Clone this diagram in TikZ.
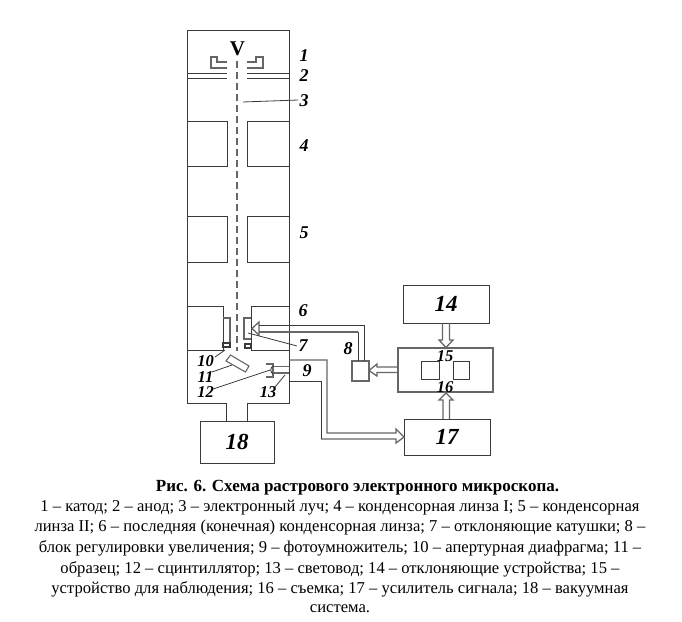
\documentclass[tikz,border=0pt]{standalone}
\usepackage{fontspec}
\setmainfont{Liberation Serif}
\definecolor{ink}{HTML}{3A3A3A}
\definecolor{soft}{HTML}{666666}
\tikzset{
  wall/.style={draw=ink,line width=1pt,line join=miter},
  softwall/.style={draw=soft,line width=1.3pt,line join=miter},
  block/.style={draw=ink,line width=1pt,rectangle,inner sep=0pt,outer sep=0pt,anchor=north west,font=\fontsize{23}{23}\selectfont\bfseries\itshape},
  softblock/.style={block,draw=soft,line width=1.3pt},
  tag/.style={font=\fontsize{18}{18}\selectfont\bfseries\itshape,inner sep=0pt,text=black},
  smalltag/.style={font=\fontsize{16.5}{17}\selectfont\bfseries\itshape,inner sep=0pt,text=black},
  leader/.style={draw=ink,line width=0.8pt},
  capline/.style={font=\fontsize{16.6}{18}\selectfont,inner sep=0pt,text=black}
}
\newcommand{\blk}[6]{\node[#1,minimum width=#4pt,minimum height=#5pt] (#2) at (#3) {#6};}
\begin{document}
\begin{tikzpicture}[x=1pt,y=-1pt]
\useasboundingbox (0,0) rectangle (682,621);
% column
\draw[wall] (226,403) -- (187.5,403) -- (187.5,30) -- (289,30) -- (289,403) -- (247,403);
% cathode
\draw[softwall] (227,62) -- (217,62) -- (217,57) -- (211,57) -- (211,68) -- (227,68);
\draw[softwall] (247,62) -- (256,62) -- (256,57) -- (263,57) -- (263,68) -- (247,68);
% anode
\draw[wall] (187.5,73) -- (227,73) (187.5,78) -- (227,78);
\draw[wall] (247,73) -- (289,73) (247,78) -- (289,78);
% beam
\draw[draw=soft,line width=1.3pt,dash pattern=on 7pt off 4pt] (237,61) -- (237,351);
% lens 4, 5
\draw[wall] (187.5,121) -- (227,121) -- (227,166) -- (187.5,166);
\draw[wall] (289,121) -- (247,121) -- (247,166) -- (289,166);
\draw[wall] (187.5,216) -- (227,216) -- (227,262) -- (187.5,262);
\draw[wall] (289,216) -- (247,216) -- (247,262) -- (289,262);
% lens 6
\draw[wall] (187.5,306) -- (223,306) -- (223,350.5) -- (187.5,350.5);
\draw[wall] (289,306) -- (251,306) -- (251,350.5) -- (289,350.5);
% deflecting coils
\draw[softwall] (223,318) -- (230,318) -- (230,343) -- (223,343);
\draw[softwall] (251,318) -- (244,318) -- (244,339) -- (251,339);
% aperture
\draw[wall,line width=1.3pt] (223,343) rectangle (230,347);
\draw[wall,line width=1.3pt] (245,344) rectangle (251,348);
% sample
\draw[softwall,line width=1.1pt] (226,361) -- (230.5,355) -- (249,366) -- (245.5,372) -- cycle;
% scintillator and guide
\draw[softwall] (266,364) -- (273,364) -- (273,377) -- (266,377);
\draw[softwall,line width=1.1pt] (273,366.5) -- (289,366.5) (273,373) -- (289,373);
\draw[wall,line width=0.9pt] (273,366) .. controls (270,368) and (270,372) .. (273,374);
% neck and pump
\draw[wall] (226,403) -- (226,421);
\draw[wall] (247,403) -- (247,421);
\blk{block}{pump}{200,421}{74}{42}{18}
% right-hand blocks
\blk{block}{defl}{403,285}{86}{38}{14}
\blk{softblock}{view}{398,348}{95}{44}{}
\blk{block}{amp}{404,419}{86}{36}{17}
\blk{softblock}{mag}{352,361}{17}{20}{}
\blk{block}{scrA}{421,361}{18}{18}{}
\blk{block}{scrB}{453,361}{16}{18}{}
% pipe 9 -> 17
\coordinate (p9a) at (289,360);
\coordinate (p9b) at (289,381.5);
\draw[softwall] (p9a) -- (327,360) -- (327,433) -- (396,433) -- (396,429) -- (amp.west) -- (396,443) -- (396,439) -- (321,439);
\draw[wall] (321,439) -- (321,381.5) -- (p9b);
% pipe mag -> coils
\coordinate (headT) at (259,322);
\coordinate (headB) at (259,335);
\coordinate (tip8) at (252,328.5);
\draw[softwall] (tip8) -- (headT) -- (headB) -- cycle;
\draw[wall] (259,325) -- (364,325) -- (364,361);
\draw[softwall] (259,332) -- (358,332);
\draw[wall] (358,332) -- (358,361);
% view -> mag
\draw[softwall] (398,367) -- (377,367) -- (377,364) -- (369,370.5) -- (377,376) -- (377,372.5) -- (398,372.5);
% defl -> view
\draw[softwall] (442.5,323) -- (442.5,340) -- (439,340) -- (446,347.5) -- (453,340) -- (449.5,340) -- (449.5,323);
% amp -> view
\draw[softwall] (443,419) -- (443,400) -- (439,400) -- (446,393) -- (453,400) -- (449.5,400) -- (449.5,419);
% leaders
\coordinate (l3a) at (243,102); \coordinate (l3b) at (298,100);
\coordinate (l7a) at (248,333); \coordinate (l7b) at (297,346);
\coordinate (l10a) at (215,357); \coordinate (l10b) at (225,350);
\coordinate (l11a) at (212,372); \coordinate (l11b) at (232,365);
\coordinate (l12a) at (213,389); \coordinate (l12b) at (270,370);
\coordinate (l13a) at (275,387); \coordinate (l13b) at (285,375);
\draw[leader] (l3a) -- (l3b);
\draw[leader] (l7a) -- (l7b);
\draw[leader] (l10a) -- (l10b);
\draw[leader] (l11a) -- (l11b);
\draw[leader] (l12a) -- (l12b);
\draw[leader] (l13a) -- (l13b);
% labels
\node[font=\fontsize{21}{21}\selectfont\bfseries,inner sep=0pt] (V) at (237.5,49) {V};
\node[tag] (t1) at (304,56) {1};
\node[tag] (t2) at (304,75.5) {2};
\node[tag] (t3) at (304,101) {3};
\node[tag] (t4) at (304,146) {4};
\node[tag] (t5) at (304,233) {5};
\node[tag] (t6) at (303,311) {6};
\node[tag] (t7) at (303,346) {7};
\node[tag] (t8) at (348,349) {8};
\node[tag] (t9) at (307,371) {9};
\node[smalltag] (t10) at (205.5,361) {10};
\node[smalltag] (t11) at (205.5,377) {11};
\node[smalltag] (t12) at (205.5,392) {12};
\node[smalltag] (t13) at (268,392) {13};
\node[smalltag] (t15) at (445,356) {15};
\node[smalltag] (t16) at (445,387) {16};
% caption
\node[capline,font=\fontsize{17}{18}\selectfont\bfseries] (c0) at (357.5,488) {Рис. 6. Схема растрового электронного микроскопа.};
\node[capline] (c1) at (340,508) {1 – катод; 2 – анод; 3 – электронный луч; 4 – конденсорная линза I; 5 – конденсорная};
\node[capline] (c2) at (340,528) {линза II; 6 – последняя (конечная) конденсорная линза; 7 – отклоняющие катушки; 8 –};
\node[capline] (c3) at (340,548) {блок регулировки увеличения; 9 – фотоумножитель; 10 – апертурная диафрагма; 11 –};
\node[capline] (c4) at (340,569) {образец; 12 – сцинтиллятор; 13 – световод; 14 – отклоняющие устройства; 15 –};
\node[capline] (c5) at (340,589) {устройство для наблюдения; 16 – съемка; 17 – усилитель сигнала; 18 – вакуумная};
\node[capline] (c6) at (340,609) {система.};
\end{tikzpicture}
\end{document}
